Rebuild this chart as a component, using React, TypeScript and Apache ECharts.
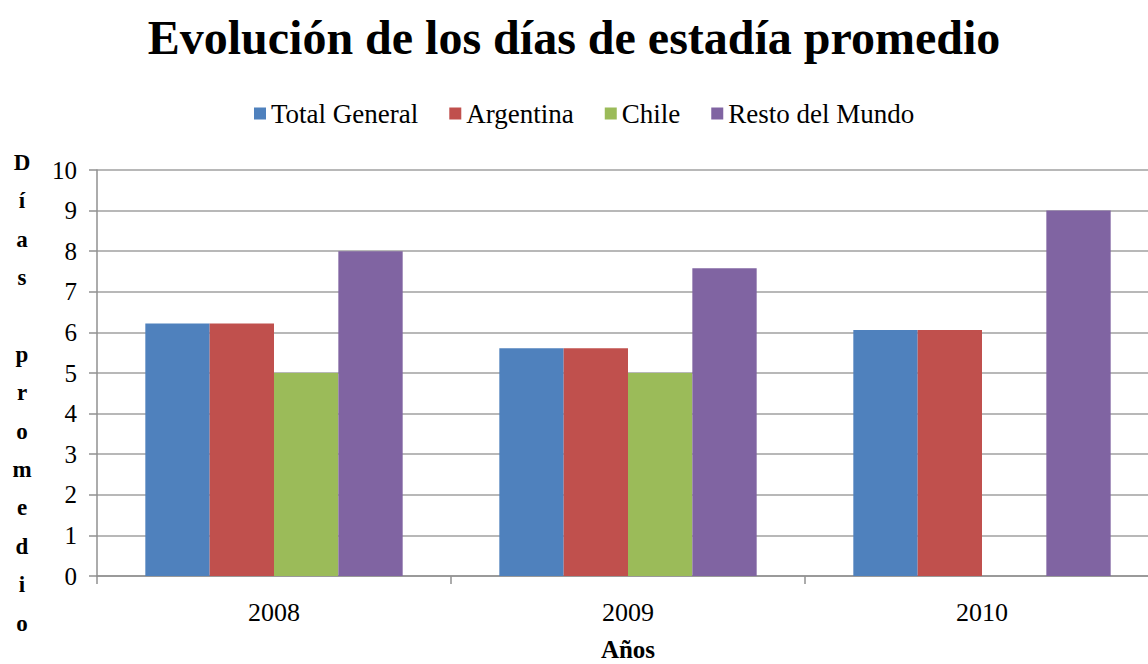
import React, { useEffect, useRef } from "react";
import * as echarts from "echarts";

const years = ["2008", "2009", "2010"];
const totalGeneral = [6.22, 5.61, 6.06];
const argentina = [6.22, 5.61, 6.06];
const chile = [5.0, 5.0, null];
const restoMundo = [8.0, 7.58, 9.0];
const seriesNames = ["Total General", "Argentina", "Chile", "Resto del Mundo"];
const colors = ["#4F81BD", "#C0504D", "#9BBB59", "#8064A2"];

export default function App() {
  const ref = useRef<HTMLDivElement>(null);
  useEffect(() => {
    const chart = echarts.init(ref.current!, null, { renderer: "svg" });
    const font = "Liberation Serif";
    const data = [totalGeneral, argentina, chile, restoMundo];
    chart.setOption({
      animation: false,
      backgroundColor: "#ffffff",
      textStyle: { fontFamily: font },
      title: {
        text: "Evolución de los días de estadía promedio",
        left: "center",
        top: 8,
        textStyle: { fontFamily: font, fontSize: 48, fontWeight: "bold", color: "#000" },
      },
      legend: {
        data: seriesNames,
        top: 95,
        left: 249,
        itemWidth: 12,
        itemHeight: 12,
        itemGap: 31,
        icon: "rect",
        textStyle: { fontFamily: font, fontSize: 27, color: "#000" },
      },
      grid: { left: 97, right: -11, top: 170, bottom: 88, outerBoundsMode: "none", containLabel: false },
      xAxis: {
        type: "category",
        data: years,
        name: "Años",
        nameLocation: "middle",
        nameGap: 61,
        nameTextStyle: { fontFamily: font, fontSize: 25, fontWeight: "bold", color: "#000" },
        axisLine: { lineStyle: { color: "#909090", width: 1.5 } },
        axisTick: { show: true, length: 8, lineStyle: { color: "#909090", width: 1.5 } },
        axisLabel: { fontFamily: font, fontSize: 26, color: "#000", margin: 23 },
      },
      yAxis: {
        type: "value",
        min: 0,
        max: 10,
        interval: 1,
        axisLine: { show: true, lineStyle: { color: "#909090", width: 1.5 } },
        axisTick: { show: true, length: 8, lineStyle: { color: "#909090", width: 1.5 } },
        axisLabel: { fontFamily: font, fontSize: 25, color: "#000", margin: 20 },
        splitLine: { lineStyle: { color: "#a0a0a0", width: 1.5 } },
      },
      graphic: [
        {
          type: "text",
          left: 12,
          top: 143,
          style: {
            text: "D\ní\na\ns\n\np\nr\no\nm\ne\nd\ni\no",
            font: "bold 23px Liberation Serif",
            fill: "#000",
            lineHeight: 38.4,
            textAlign: "center",
            width: 20,
          },
        },
      ],
      series: seriesNames.map((name, i) => ({
        name,
        type: "bar",
        data: data[i],
        barGap: "0%",
        barCategoryGap: "27.3%",
        itemStyle: { color: colors[i] },
      })),
    });
    return () => chart.dispose();
  }, []);
  return (
    <div
      ref={ref}
      style={{ position: "fixed", left: 0, top: 0, width: 1148, height: 664 }}
    />
  );
}
